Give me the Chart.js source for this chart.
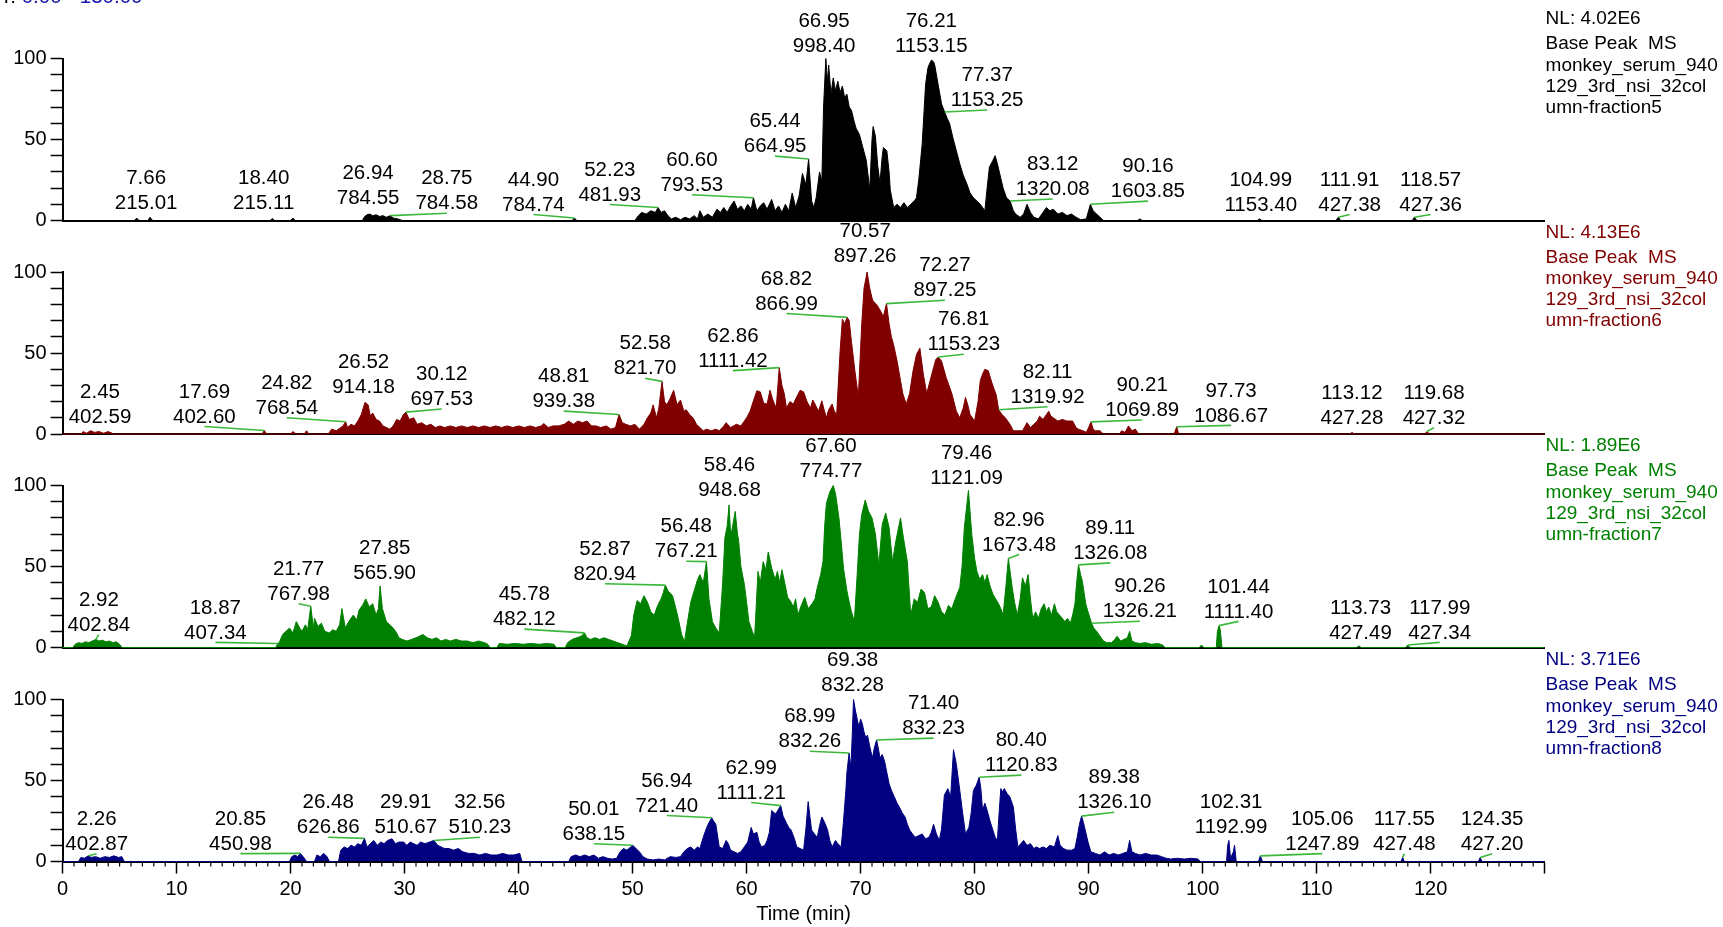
<!DOCTYPE html>
<html>
<head>
<meta charset="utf-8">
<script src="https://cdn.jsdelivr.net/npm/chart.js@4.4.1/dist/chart.umd.min.js"></script>
<style>
  html, body { margin: 0; padding: 0; background: #fff; }
  #wrap { position: relative; width: 1723px; height: 927px; overflow: hidden; background: #fff; }
  #wrap canvas { position: absolute; left: 0; top: 0; }
</style>
</head>
<body>
<div id="wrap">
  <canvas id="c5" width="1723" height="927"></canvas>
  <canvas id="c6" width="1723" height="927"></canvas>
  <canvas id="c7" width="1723" height="927"></canvas>
  <canvas id="c8" width="1723" height="927"></canvas>
</div>
<script>
// ---- Base peak chromatograms: [retention time (min), relative abundance (%)] ----
const f5Trace = [[0,0],[6.3,0],[6.5,1.5],[6.7,0],[7.5,0],[7.9,0],[18.2,0],[18.6,0],[20.0,0],[20.2,1.5],[20.4,0],[26.3,0],[26.5,2.5],[26.7,3.5],[27.2,3],[27.5,3.5],[27.8,2.5],[28.1,3],[28.4,2],[29.0,1.5],[29.4,1],[29.8,0],[44.7,0],[45.1,0],[50.2,0],[50.5,3],[50.8,5],[51.2,4],[51.6,6],[52.0,5],[52.5,5],[52.8,6],[53.1,3],[53.4,1],[53.8,2],[54.2,0.5],[54.6,2],[55.0,1],[55.4,3],[55.7,1],[55.9,6],[56.2,2],[56.6,4],[57.0,2],[57.4,7],[57.7,5],[58.0,8],[58.3,5],[58.6,9],[58.9,12],[59.2,7],[59.5,9],[59.8,6],[60.1,10],[60.4,7],[60.9,6],[61.2,9],[61.5,11],[61.8,7],[62.2,13],[62.5,6],[62.8,9],[63.1,5],[63.4,10],[63.7,6],[64.0,17],[64.3,8],[64.6,15],[64.9,29],[65.2,22],[65.7,12],[65.9,8],[66.1,14],[66.4,30],[66.6,24],[66.75,70],[67.1,85],[67.2,96],[67.4,78],[67.6,88],[67.8,80],[68.0,86],[68.2,79],[68.4,83],[68.6,76],[68.8,78],[69.0,70],[69.2,68],[69.4,62],[69.6,57],[69.9,53],[70.2,45],[70.5,37],[70.8,19],[71.0,50],[71.1,58],[71.3,52],[71.5,34],[71.7,23],[71.9,40],[72.0,45],[72.3,43],[72.5,30],[72.6,19],[72.9,8],[73.2,10],[73.5,8],[73.8,11],[74.1,8],[74.4,10],[74.7,12],[74.9,14],[75.1,25],[75.4,47],[75.7,84],[75.9,94],[76.0,96],[76.4,98],[76.5,96],[76.8,84],[77.1,72],[77.6,63],[77.8,60],[78.1,51],[78.4,43],[78.7,35],[79.0,28],[79.3,23],[79.6,17],[79.9,14],[80.2,12],[80.5,10],[80.9,6],[81.1,20],[81.3,33],[81.6,37],[81.8,40],[82.0,35],[82.2,29],[82.5,20],[82.8,14],[83.4,6],[83.6,4],[84.0,2],[84.3,4],[84.6,10],[84.9,5],[85.2,2],[85.6,1],[86.0,5],[86.3,8],[86.6,6],[86.9,7],[87.3,4],[87.7,5],[88.1,3],[88.5,4],[88.9,2],[89.3,0.5],[89.8,1],[90.0,6],[90.4,6],[90.7,4],[91.0,2],[91.3,0],[94.3,0],[94.5,1],[94.7,0],[104.8,0],[105.2,0],[111.7,0],[112.1,0],[118.4,0],[118.8,0],[130,0]];

const f6Trace = [[0,0],[1.6,0],[1.8,1.5],[2.1,0.5],[2.8,1],[3.2,1.5],[3.6,0.5],[4.0,1.5],[4.5,0],[17.5,0],[17.9,0],[20.0,0],[20.2,1.5],[20.5,0],[21.2,0],[21.4,2],[21.6,0],[23.3,0],[23.6,3],[24.0,2],[24.4,4],[24.6,5],[25.0,4],[25.3,6],[25.6,5],[25.9,8],[26.2,12],[26.8,18],[27.0,11],[27.2,13],[27.5,9],[27.8,8],[28.1,5],[28.4,4],[28.7,3],[29.0,5],[29.3,9],[29.6,8],[29.9,12],[30.4,9],[30.8,10],[31.1,6],[31.5,7],[31.9,5],[32.3,6],[32.7,4],[33.1,5],[33.5,4],[34.0,5],[34.5,4],[35.0,5],[35.5,4],[36.0,5],[36.5,4],[37.0,5],[37.5,4],[38.0,5],[38.5,4],[39.0,5],[39.5,4],[40.0,5],[40.5,4],[41.0,5],[41.5,4],[42.0,5],[42.2,6.5],[42.6,4],[43.0,5],[43.5,5],[44.0,6],[44.4,8],[44.8,6],[45.2,8],[45.6,7],[46.0,8],[46.4,5],[46.8,5],[47.2,4],[47.7,5],[48.1,3],[48.5,4],[49.1,7],[49.4,6],[49.8,5],[50.2,6],[50.6,3],[51.0,6],[51.3,10],[51.6,13],[51.8,18],[52.1,10],[52.3,16],[52.8,20],[53.0,18],[53.3,22],[53.6,27],[53.9,18],[54.2,21],[54.5,14],[54.7,15],[55.0,12],[55.3,10],[55.6,6],[55.9,4],[56.2,2],[56.5,3],[56.9,2],[57.3,3],[57.6,2],[58.0,5],[58.2,7],[58.6,4],[59.1,6],[59.5,5],[60.0,10],[60.3,14],[60.6,20.5],[60.9,26.7],[61.2,26],[61.5,19],[61.8,18.5],[62.05,27],[62.3,21],[62.6,16],[63.1,30],[63.3,25],[63.5,16],[63.8,20],[64.1,18.5],[64.4,23],[64.7,27],[65.0,26],[65.3,20],[65.6,16],[65.8,21],[66.0,18.5],[66.3,14],[66.6,20.5],[66.8,15],[67.0,10],[67.2,15],[67.5,18.5],[67.7,14],[67.9,12],[68.2,51],[68.4,71],[68.6,68],[69.0,70],[69.2,57],[69.5,39],[69.8,23],[70.1,68],[70.3,90],[70.8,90],[71.0,84],[71.1,82],[71.4,80],[71.7,76.6],[72.0,72.5],[72.5,68],[72.7,60],[72.9,55],[73.2,45],[73.5,33],[73.7,25],[74.0,18.5],[74.3,25],[74.6,39],[74.9,49],[75.2,53],[75.5,37],[75.8,25],[76.1,33],[76.4,41],[76.6,46],[77.1,45],[77.5,35],[78.0,25],[78.4,14],[78.7,10],[79.0,16],[79.2,22.6],[79.4,18],[79.6,12],[80.0,8],[80.3,20],[80.5,33],[80.7,37],[80.9,40],[81.2,39],[81.5,32],[81.7,28],[81.9,24],[82.4,12],[82.7,10],[83.1,6],[83.4,2],[83.8,2],[84.2,2],[84.6,7],[84.9,4],[85.2,6],[85.5,8],[85.7,11],[86.0,9],[86.3,12],[86.5,14],[86.7,11],[86.9,10],[87.3,8],[87.7,9],[88.1,8],[88.6,8],[88.9,4],[89.1,3],[89.5,2],[89.8,1],[90.0,4],[90.4,3],[90.6,2],[91.0,2],[91.3,0],[92.7,0],[92.9,2],[93.2,1],[93.5,5],[93.8,2],[94.1,3],[94.4,0],[97.5,0],[97.9,0],[112.9,0],[113.3,0],[119.5,0],[119.9,0],[130,0]];

const f7Trace = [[0,0],[0.9,0],[1.1,2],[1.4,3],[1.7,2.5],[2.0,3.5],[2.3,3],[2.6,4],[3.2,4],[3.5,4.5],[3.8,3.5],[4.1,4],[4.4,3],[4.7,3.5],[5.0,2],[5.2,0],[18.7,0],[19.0,3],[19.3,8],[19.6,10],[19.9,12],[20.2,9],[20.5,16],[20.8,12],[21.0,10],[21.3,14],[21.5,11],[22.0,12],[22.1,18],[22.4,13],[22.7,15],[23.0,10],[23.4,9],[23.7,11],[24.0,10],[24.3,14],[24.5,24],[24.8,12],[25.1,16],[25.5,20],[25.8,17],[26.0,23],[26.3,26],[26.6,30],[26.9,25],[27.2,27],[27.5,20],[27.7,24],[28.05,24],[28.4,16],[28.7,14],[29.0,12],[29.3,9],[29.5,6],[29.8,5],[30.2,4],[30.6,5],[31.0,6],[31.3,7],[31.6,8],[32.0,6],[32.4,5],[32.8,6],[33.2,4],[33.6,5],[34.0,4],[34.5,5],[35.0,4],[35.5,4],[36.0,3],[36.5,4],[37.0,3],[37.3,2],[37.5,0],[38.1,0],[38.3,2.5],[39.0,2],[39.7,2.5],[40.4,2],[41.1,2.5],[41.8,2],[42.5,2.5],[43.1,2],[43.3,0],[44.1,0],[44.3,3],[44.7,5],[45.1,6],[45.5,7],[46.0,6],[46.3,5],[46.7,6],[47.1,5],[47.5,6],[47.9,5],[48.3,4],[48.7,3],[49.1,2],[49.5,1],[49.9,7.5],[50.1,20],[50.4,29],[50.7,27],[51.0,32],[51.3,28],[51.6,22],[51.9,20],[52.2,26],[52.5,30],[52.7,34],[53.1,35],[53.5,32],[53.8,24],[54.0,18],[54.3,8],[54.55,3.6],[54.8,15],[55.1,28],[55.4,35],[55.7,42],[55.9,45],[56.2,40],[56.7,30],[57.0,16],[57.3,12],[57.6,9],[57.9,40],[58.1,68],[58.3,75],[58.6,70],[58.7,72],[58.9,80],[59.0,84],[59.2,70],[59.3,66],[59.5,50],[59.8,39],[60.0,28],[60.2,16],[60.5,10],[60.7,6],[61.0,47],[61.2,40],[61.45,53],[61.7,48],[61.9,59],[62.2,49],[62.5,42],[62.7,47],[62.9,40],[63.1,48],[63.4,38],[63.6,31],[63.9,28],[64.1,25],[64.3,30],[64.5,20],[64.8,26],[65.1,31],[65.4,24],[65.75,27],[66.0,30],[66.2,37],[66.5,45],[66.7,53],[66.85,75],[67.0,89],[67.3,96],[67.8,95],[68.1,80],[68.3,65],[68.5,49],[68.8,35],[69.0,28],[69.2,22],[69.45,16],[69.7,45],[69.9,70],[70.1,82],[70.4,91],[70.7,84],[71.0,80],[71.3,70],[71.6,51],[71.9,76],[72.2,83],[72.5,74],[72.8,53],[73.1,66],[73.5,80],[73.75,68],[74.1,53],[74.4,20],[74.7,30],[75.0,28],[75.3,36],[75.6,34],[75.9,24],[76.2,25],[76.5,32],[76.8,28],[77.1,22],[77.4,20],[77.7,26],[78.0,24],[78.3,30],[78.7,37],[78.9,50],[79.1,74],[79.75,70],[80.0,55],[80.2,47],[80.45,42],[80.7,45],[80.9,40],[81.1,45],[81.35,38],[81.6,33],[81.85,30],[82.1,27],[82.3,24],[82.5,20],[82.75,38],[83.3,37],[83.5,28],[83.75,20],[84.0,30],[84.2,43],[84.45,38],[84.7,45],[84.9,30],[85.1,18],[85.35,22],[85.6,18],[85.85,24],[86.1,27],[86.3,22],[86.5,25],[86.75,20],[87.0,27],[87.2,22],[87.45,20],[87.7,18],[87.9,16],[88.15,18],[88.4,15],[88.6,20],[88.8,27],[88.95,40],[89.3,45],[89.45,41],[89.6,34],[89.75,27],[89.95,22],[90.45,12],[90.7,10],[90.9,8],[91.1,6],[91.3,4],[91.6,3],[92.0,3],[92.3,5],[92.5,7],[92.8,4],[93.1,5],[93.4,6],[93.6,10],[93.8,4],[94.1,3],[94.5,2.5],[95.0,3],[95.5,2],[96.1,2.5],[96.5,1.5],[96.7,0],[99.7,0],[99.9,1.5],[100.1,0],[101.2,0],[101.3,10],[101.55,11],[101.7,0],[113.5,0],[113.9,0],[117.8,0],[118.2,0],[130,0]];

const f8Trace = [[0,0],[1.4,0],[1.6,2.5],[1.9,2],[2.5,2.5],[2.9,3],[3.3,2],[3.7,3],[4.1,2.5],[4.5,3.5],[4.9,2.5],[5.2,3],[5.4,0],[19.9,0],[20.1,3],[20.4,4],[20.6,3],[21.1,3],[21.4,0],[22.1,0],[22.3,4],[22.6,3],[22.9,5],[23.2,3],[23.4,0],[24.2,0],[24.4,7],[24.7,9],[25.0,8],[25.3,10],[25.6,9],[25.9,11],[26.2,10],[26.7,9],[27.0,11],[27.3,13],[27.6,10],[27.9,12],[28.2,11],[28.5,13],[28.9,14],[29.2,11],[29.5,12],[30.2,10],[30.5,12],[30.8,11],[31.1,10],[31.4,12],[31.8,11],[32.2,12],[32.9,10],[33.2,9],[33.5,8],[33.9,8],[34.3,7],[34.7,8],[35.1,6],[35.6,5],[36.1,5],[36.6,4],[37.1,5],[37.6,4],[38.1,4],[38.6,5],[39.1,4],[39.6,4],[40.1,5],[40.3,0],[44.4,0],[44.6,3],[45.0,4],[45.4,3],[45.8,4],[46.2,3],[46.6,4],[47.0,2],[47.4,3],[47.8,2],[48.2,1.5],[48.6,2],[48.9,6],[49.2,8],[49.5,7],[50.3,8],[50.6,6],[50.9,3],[51.3,1.5],[51.8,1],[52.3,1.5],[52.8,1],[53.3,3],[53.8,2.5],[54.2,3],[54.5,6],[54.8,8],[55.1,9],[55.4,7],[55.7,9],[55.9,8],[56.2,15],[56.5,21],[56.7,24],[57.1,25],[57.3,23],[57.6,9],[57.9,8],[58.2,13],[58.4,11],[58.6,7],[58.9,6],[59.2,5],[59.5,6],[59.8,9],[60.1,12],[60.4,21],[60.6,17],[60.9,18],[61.1,12],[61.3,9],[61.6,10],[61.8,13],[62.0,18],[62.2,31.5],[62.5,29.5],[62.7,31],[63.2,28],[63.5,23.6],[63.7,21],[63.9,19.5],[64.2,14],[64.4,9],[64.7,8],[65.0,7],[65.2,20],[65.4,37],[65.55,28],[65.7,19.5],[65.95,17],[66.2,15],[66.4,22],[66.6,27.5],[66.85,24],[67.1,19.5],[67.3,13],[67.5,9],[67.8,13],[68.0,11],[68.3,9],[68.5,25],[68.7,43],[68.8,55],[69.15,58],[69.25,75],[69.55,93],[69.7,88],[69.85,83],[70.0,88],[70.15,85],[70.3,80],[70.45,76.6],[70.6,78],[70.76,72.5],[70.9,68],[71.05,64],[71.2,70],[71.55,70],[71.7,64],[71.9,66],[72.1,62],[72.3,55],[72.5,48],[72.7,44],[72.95,40],[73.2,36],[73.4,33.6],[73.65,30],[73.9,27.5],[74.1,23],[74.3,19.5],[74.55,17],[74.8,15],[75.1,16],[75.4,17],[75.7,14],[76.0,15],[76.2,18],[76.4,23],[76.65,17],[76.9,13],[77.1,20],[77.35,41],[77.65,45],[77.9,40],[78.15,69],[78.4,60],[78.7,44],[78.95,30],[79.2,17],[79.5,21],[79.7,30],[79.9,44],[80.15,47],[80.55,45],[80.7,31.6],[80.9,36],[81.1,31.6],[81.35,25],[81.6,19.5],[81.8,15],[82.0,13],[82.15,30],[82.3,45],[82.45,43],[82.6,45],[82.85,42],[83.1,39.8],[83.4,33.6],[83.6,20],[83.8,9],[84.05,11],[84.3,13],[84.6,10],[84.9,11],[85.2,8],[85.4,9],[85.7,8],[86.0,9],[86.3,8],[86.6,10],[87.0,9],[87.3,16],[87.5,10],[87.8,8],[88.1,7],[88.5,7],[88.8,8],[89.0,15],[89.2,23],[89.55,24],[89.7,19.5],[89.95,12],[90.2,6],[90.6,5],[91.0,4],[91.4,6],[91.8,4],[92.2,5],[92.6,4],[93.0,5],[93.4,6],[93.6,13],[93.8,6],[94.1,5],[94.5,4],[95.0,5],[95.5,4],[96.0,4],[96.4,3],[96.8,2],[97.2,1.5],[97.8,2],[98.4,1.5],[99.0,2],[99.6,1.5],[99.8,0],[102.1,0],[102.2,10],[102.45,2],[102.7,6],[102.8,10],[102.95,0],[104.9,0],[105.25,0],[117.4,0],[117.7,0],[124.2,0],[124.5,0],[130,0]];

// ---- Annotated peaks: [RT (min), base peak m/z, relative abundance (%)] ----
const f5Peaks = [[7.66,215.01,2],[18.40,215.11,1.2],[26.94,784.55,4],[28.75,784.58,3],[44.90,784.74,1.5],[52.23,481.93,8],[60.60,793.53,14],[65.44,664.95,38],[66.95,998.40,100],[76.21,1153.15,99],[77.37,1153.25,67],[83.12,1320.08,12],[90.16,1603.85,10],[104.99,1153.40,1],[111.91,427.38,2],[118.57,427.36,2]];
const f6Peaks = [[2.45,402.59,2],[17.69,402.60,2.2],[24.82,768.54,7.6],[26.52,914.18,19.5],[30.12,697.53,13.5],[48.81,939.38,12],[52.58,821.70,32.5],[62.86,1111.42,41],[68.82,866.99,72],[70.57,897.26,100],[72.27,897.25,80.5],[76.81,1153.23,47.5],[82.11,1319.92,15],[90.21,1069.89,7.5],[97.73,1086.67,4.5],[113.12,427.28,1],[119.68,427.32,1.5]];
const f7Peaks = [[2.92,402.84,5],[18.87,407.34,2.5],[21.77,767.98,25.5],[27.85,565.90,38],[45.78,482.12,9],[52.87,820.94,38.5],[56.48,767.21,53],[58.46,948.68,88],[67.60,774.77,100],[79.46,1121.09,97],[82.96,1673.48,55],[89.11,1326.08,51],[90.26,1326.21,15],[101.44,1111.40,13.5],[113.73,427.49,1],[117.99,427.34,1.5]];
const f8Peaks = [[2.26,402.87,3.5],[20.85,450.98,5],[26.48,626.86,14.3],[29.91,510.67,12],[32.56,510.23,13],[50.01,638.15,10],[56.94,721.40,27],[62.99,1111.21,34.5],[68.99,832.26,67],[69.38,832.28,100],[71.40,832.23,75],[80.40,1120.83,52],[89.38,1326.10,28],[102.31,1192.99,13],[105.06,1247.89,3.5],[117.55,427.48,2.5],[124.35,427.20,2.5]];

// ---- Label placement for each annotated peak: [centre RT, height of the m/z line (%), leader line?] ----
const f5LabelAt = [[7.33,10.3,0],[17.64,10.3,0],[26.8,13.7,0],[33.7,10.3,1],[41.3,9.6,1],[48.0,15.7,1],[55.2,21.8,1],[62.5,45.6,1],[66.8,107.3,0],[76.2,107.3,0],[81.1,74.1,1],[86.85,19.1,1],[95.2,17.8,1],[105.1,9.6,0],[112.9,9.6,1],[120.0,9.6,1]];
const f6LabelAt = [[3.28,10.5,0],[12.44,10.5,1],[19.67,15.9,1],[26.4,28.8,0],[33.26,21.3,1],[43.96,20,1],[51.1,40.3,1],[58.8,45,1],[63.5,80.2,1],[70.4,109.4,0],[77.4,88.4,1],[79.05,55.1,1],[86.4,22.7,1],[94.7,14.5,1],[102.5,11.2,1],[113.1,9.8,0],[120.3,9.8,1]];
const f7LabelAt = [[3.18,13.8,1],[13.4,9,1],[20.7,32.9,1],[28.25,45.9,0],[40.5,17.2,1],[47.57,45.2,1],[54.7,59.1,1],[58.5,97.1,0],[67.4,108.7,0],[79.3,104.6,0],[83.9,63.3,1],[91.9,58.1,1],[94.5,22.1,1],[103.15,22,1],[113.85,9,0],[120.8,9,1]];
const f8LabelAt = [[2.99,10.7,1],[15.6,10.7,1],[23.3,20.8,1],[30.1,20.8,0],[36.6,20.8,1],[46.6,16.8,1],[53.0,34.3,1],[60.4,42.3,1],[65.55,73.9,1],[69.3,108.9,0],[76.4,82,1],[84.1,59.2,1],[92.25,36.3,1],[102.5,20.8,0],[110.5,10.7,1],[117.7,10.7,1],[125.4,10.7,1]];

// ---- Axis settings and per-run header text ----
const timeRange = [0, 130];
const abundanceRange = [0, 100];
const timeTickStep = 10;
const abundanceTickStep = 10;
const abundanceLabelled = [0, 50, 100];
const normLevels = ['NL: 4.02E6', 'NL: 4.13E6', 'NL: 1.89E6', 'NL: 3.71E6'];
const runNames = ['umn-fraction5', 'umn-fraction6', 'umn-fraction7', 'umn-fraction8'];
const headerLines = ['Base Peak  MS', 'monkey_serum_940', '129_3rd_nsi_32col'];

const FONT = "'Liberation Sans', Arial, Helvetica, sans-serif";
Chart.defaults.font.family = FONT;
Chart.defaults.color = '#000';

const panels = [
  { id: 'c5', trace: f5Trace, peaks: f5Peaks, labels: f5LabelAt, color: '#000000', base: 220.5 },
  { id: 'c6', trace: f6Trace, peaks: f6Peaks, labels: f6LabelAt, color: '#800000', base: 434 },
  { id: 'c7', trace: f7Trace, peaks: f7Peaks, labels: f7LabelAt, color: '#008000', base: 647.5 },
  { id: 'c8', trace: f8Trace, peaks: f8Peaks, labels: f8LabelAt, color: '#000080', base: 861.5 }
];
const PLOT_H = 162;
const AXIS_X = 62.6;
const PLOT_RIGHT = 1544.6;
const W = 1723, H = 927;
const BOTTOM_AXIS_H = 65;

function mergePoints(trace, peaks) {
  const pts = trace.map(p => ({ x: p[0], y: p[1] }));
  peaks.forEach(p => pts.push({ x: p[0], y: p[2] }));
  pts.sort((a, b) => a.x - b.x);
  return pts;
}

function annotationPlugin(panel, idx) {
  return {
    id: 'peakAnnotations' + idx,
    afterDatasetsDraw(chart) {
      const ctx = chart.ctx, xs = chart.scales.x, ys = chart.scales.y;
      ctx.save();
      // leader lines from shifted labels to their peak apex
      ctx.strokeStyle = '#3cb93c';
      ctx.lineWidth = 1.6;
      panel.peaks.forEach((p, i) => {
        const l = panel.labels[i];
        if (!l[2]) return;
        const lx = xs.getPixelForValue(l[0]);
        const ly = ys.getPixelForValue(l[1]);
        ctx.beginPath();
        ctx.moveTo(lx, ly + 9.5);
        ctx.lineTo(xs.getPixelForValue(p[0]), ys.getPixelForValue(p[2]));
        ctx.stroke();
      });
      // RT / m/z labels
      ctx.font = '20.5px ' + FONT;
      ctx.fillStyle = '#000';
      ctx.textAlign = 'center';
      ctx.textBaseline = 'middle';
      panel.peaks.forEach((p, i) => {
        const l = panel.labels[i];
        const lx = xs.getPixelForValue(l[0]);
        const ly = ys.getPixelForValue(l[1]);
        ctx.fillText(p[0].toFixed(2), lx, ly - 25);
        ctx.fillText(p[1].toFixed(2), lx, ly);
      });
      ctx.restore();
    },
    afterDraw(chart) {
      const ctx = chart.ctx, xs = chart.scales.x, area = chart.chartArea;
      ctx.save();
      // run header at the right of each trace
      ctx.font = '19px ' + FONT;
      ctx.fillStyle = panel.color;
      ctx.textAlign = 'left';
      ctx.textBaseline = 'middle';
      const tx = xs.right + 1;
      const lines = [normLevels[idx]].concat(headerLines, [runNames[idx]]);
      const offs = [-201.5, -176.5, -155, -134, -113];
      lines.forEach((s, k) => ctx.fillText(s, tx, area.bottom + offs[k]));
      if (idx === 0) {
        // time range header at the top edge
        ctx.font = '20.5px ' + FONT;
        ctx.textBaseline = 'alphabetic';
        ctx.textAlign = 'right';
        ctx.fillStyle = '#000';
        ctx.fillText('RT:', 16, 3);
        ctx.textAlign = 'left';
        ctx.fillStyle = '#1414a8';
        ctx.fillText('0.00 - 130.00', 21.7, 3);
      }
      if (idx === panels.length - 1) {
        // one-minute minor ticks on the time axis
        ctx.strokeStyle = '#000';
        ctx.lineWidth = 1.2;
        for (let t = timeRange[0]; t <= timeRange[1]; t++) {
          if (t % timeTickStep === 0) continue;
          const x = xs.getPixelForValue(t);
          ctx.beginPath();
          ctx.moveTo(x, area.bottom);
          ctx.lineTo(x, area.bottom + 5);
          ctx.stroke();
        }
      }
      ctx.restore();
    }
  };
}

panels.forEach((panel, idx) => {
  const isBottom = idx === panels.length - 1;
  const xAxisH = isBottom ? BOTTOM_AXIS_H : 0;
  new Chart(document.getElementById(panel.id), {
    type: 'line',
    data: {
      datasets: [{
        data: mergePoints(panel.trace, panel.peaks),
        borderColor: panel.color,
        backgroundColor: panel.color,
        borderWidth: 1,
        fill: 'origin',
        pointRadius: 0,
        tension: 0,
        clip: 6
      }]
    },
    options: {
      responsive: false,
      devicePixelRatio: 1,
      animation: false,
      events: [],
      layout: {
        padding: {
          left: 0,
          right: W - PLOT_RIGHT,
          top: panel.base - PLOT_H,
          bottom: H - panel.base - xAxisH
        }
      },
      plugins: { legend: { display: false }, tooltip: { enabled: false } },
      scales: {
        x: {
          type: 'linear',
          position: 'bottom',
          min: timeRange[0],
          max: timeRange[1],
          ticks: isBottom ? {
            stepSize: timeTickStep,
            autoSkip: false,
            maxRotation: 0,
            padding: 4,
            color: '#000',
            font: { size: 20 },
            callback: v => (v <= 120 ? String(v) : '')
          } : { display: false },
          grid: isBottom ? {
            display: true, drawOnChartArea: false, drawTicks: true,
            tickLength: 12, tickColor: '#000', tickWidth: 1.5
          } : { display: false },
          border: { display: true, color: '#000', width: 2 },
          title: isBottom ? {
            display: true, text: 'Time (min)', color: '#000',
            font: { size: 20 }, padding: { top: 0, bottom: 0 }
          } : { display: false },
          afterFit: s => { s.height = xAxisH; }
        },
        y: {
          type: 'linear',
          position: 'left',
          min: abundanceRange[0],
          max: abundanceRange[1],
          ticks: {
            stepSize: abundanceTickStep,
            autoSkip: false,
            padding: 4,
            color: '#000',
            font: { size: 20 },
            callback: v => (abundanceLabelled.includes(v) ? String(v) : '')
          },
          grid: {
            display: true, drawOnChartArea: false, drawTicks: true,
            tickLength: 12, tickColor: '#000', tickWidth: 1.5
          },
          border: { display: true, color: '#000', width: 2 },
          afterFit: s => { s.width = AXIS_X; }
        }
      }
    },
    plugins: [annotationPlugin(panel, idx)]
  });
});
</script>
</body>
</html>
